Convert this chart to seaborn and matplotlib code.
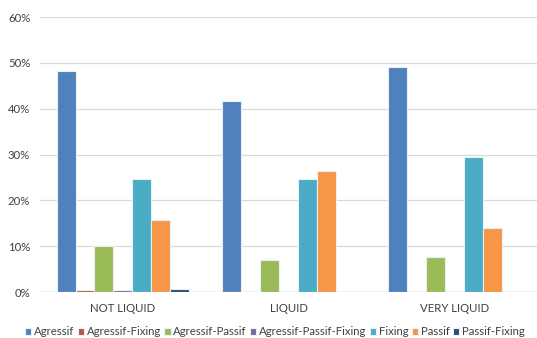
import matplotlib
matplotlib.use("Agg")
import matplotlib.pyplot as plt
import seaborn as sns
import pandas as pd

categories = ["NOT LIQUID", "LIQUID", "VERY LIQUID"]
series = ["Agressif", "Agressif-Fixing", "Agressif-Passif", "Agressif-Passif-Fixing",
          "Fixing", "Passif", "Passif-Fixing"]
agressif = [48.2, 41.6, 49.0]
agressif_fixing = [0.4, 0.0, 0.0]
agressif_passif = [10.0, 6.9, 7.7]
agressif_passif_fixing = [0.4, 0.0, 0.0]
fixing = [24.7, 24.7, 29.4]
passif = [15.8, 26.5, 13.9]
passif_fixing = [0.7, 0.0, 0.0]

colors = ["#4F81BD", "#C0504D", "#9BBB59", "#8064A2", "#4BACC6", "#F79646", "#2C4D75"]

values = [agressif, agressif_fixing, agressif_passif, agressif_passif_fixing,
          fixing, passif, passif_fixing]
rows = []
for name, vals in zip(series, values):
    for cat, v in zip(categories, vals):
        rows.append({"cat": cat, "series": name, "value": v / 100})
df = pd.DataFrame(rows)

sns.set_style("white")
plt.rcParams["font.family"] = ["Lato", "DejaVu Sans"]

fig = plt.figure(figsize=(5.37, 3.38), dpi=100)
ax = fig.add_axes([0.0745, 0.136, 0.9255, 0.8137])

sns.barplot(data=df, x="cat", y="value", hue="series", order=categories,
            hue_order=series, palette=colors, saturation=1, width=0.8,
            edgecolor="#EAF0F8", linewidth=0.8, ax=ax, legend=True)

ax.set_xlim(-0.5, 2.5)
ax.set_ylim(0, 0.6)
ax.set_yticks([0, 0.1, 0.2, 0.3, 0.4, 0.5, 0.6])
ax.set_yticklabels(["0%", "10%", "20%", "30%", "40%", "50%", "60%"])
ax.yaxis.grid(True, color="#D9D9D9", linewidth=0.9)
ax.set_axisbelow(True)
for s in ax.spines.values():
    s.set_visible(False)
ax.axhline(0, color="#D9D9D9", linewidth=1.0, zorder=0)
ax.tick_params(axis="both", length=0, labelsize=8.2, colors="#404040", pad=7)
ax.tick_params(axis="x", pad=8)
ax.set_xlabel("")
ax.set_ylabel("")

handles, labels = ax.get_legend_handles_labels()
ax.legend_.remove()
fig.legend(handles, labels, loc="center", bbox_to_anchor=(0.512, 0.018), ncol=7,
           frameon=False, fontsize=8.2, handlelength=0.55, handleheight=0.55,
           handletextpad=0.25, columnspacing=0.28, borderpad=0.0,
           labelcolor="#404040")

fig.savefig("out.png", dpi=100)
